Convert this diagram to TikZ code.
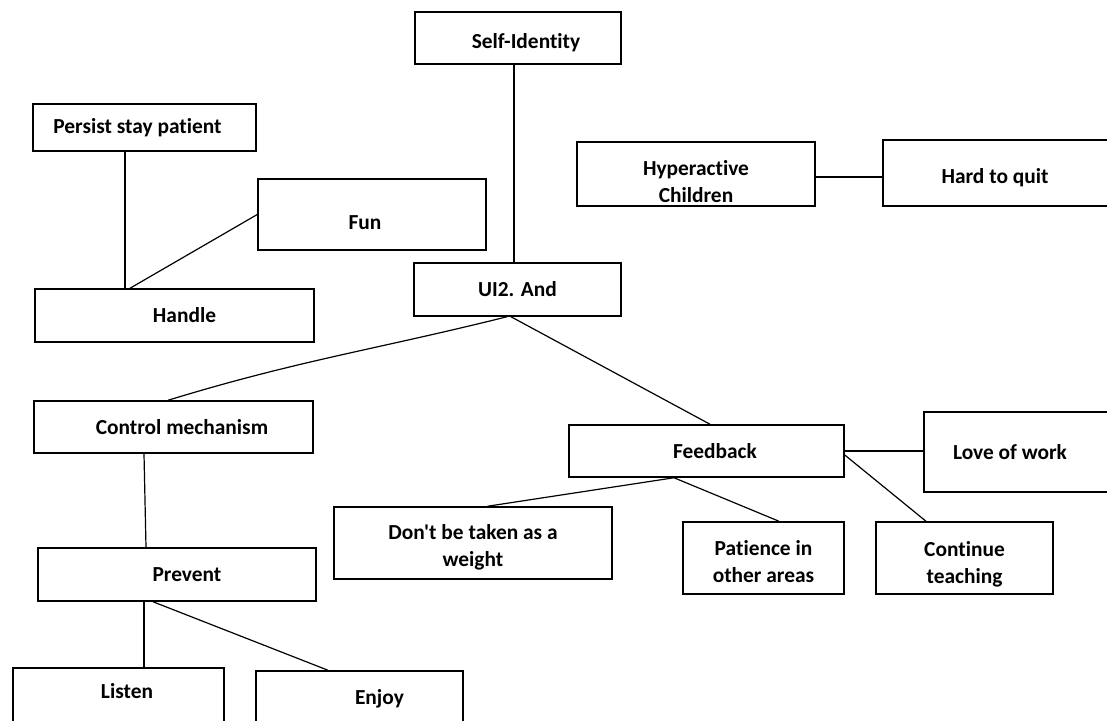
\documentclass[tikz,border=0pt]{standalone}
\usepackage{fontspec}
\newfontfamily\conceptfont{Carlito}[Ligatures=NoCommon]
\usetikzlibrary{positioning}
\tikzset{
  concept/.style 2 args={draw, line width=1.5pt, minimum width=#1pt, minimum height=#2pt,
    inner sep=0pt, align=center, font=\conceptfont\bfseries\fontsize{21.4}{27}\selectfont},
  textpos/.style 2 args={text height=#1pt, text depth=#2pt},
  nudge/.style={execute at begin node={\hspace*{#1pt}}},
  link/.style={line width=1.2pt}
}
\begin{document}
\begin{tikzpicture}[x=1pt,y=-1pt]
  \path[use as bounding box] (0,0) rectangle (1107,720);
  \clip (0,0) rectangle (1107,720);
  \node[concept={206}{52},textpos={20.4}{0},nudge=16] (self) at (518,38) {Self-Identity};
  \node[concept={223}{47},nudge=-14] (persist) at (144.5,127.5) {Persist stay patient};
  \node[concept={228}{71},textpos={29.4}{0},nudge=-14] (fun) at (372,214.5) {Fun};
  \node[concept={279}{53},nudge=20] (handle) at (174.5,315.5) {Handle};
  \node[concept={207}{53}] (ui) at (517.5,289.5) {UI2. And};
  \node[concept={238}{64},textpos={57}{0}] (hyper) at (696,174) {Hyperactive\\Children};
  \node[concept={240}{66},textpos={21}{0},nudge=-16] (hard) at (1003,173) {Hard to quit};
  \node[concept={279}{52},nudge=17] (control) at (173.5,427) {Control mechanism};
  \node[concept={278}{53},nudge=20] (prevent) at (177,574.5) {Prevent};
  \node[concept={211}{80},textpos={0}{19},nudge=17] (listen) at (118.5,708) {Listen};
  \node[concept={207}{80},textpos={0}{13},nudge=40] (enjoy) at (359.5,711) {Enjoy};
  \node[concept={275}{52},nudge=17] (feedback) at (706.5,451) {Feedback};
  \node[concept={200}{80},nudge=-28] (love) at (1024,452) {Love of work};
  \node[concept={278}{72},textpos={46}{0}] (dont) at (473,543) {Don't be taken as a\\weight};
  \node[concept={161}{72},textpos={48}{0}] (patience) at (763.5,558) {Patience in\\other areas};
  \node[concept={177}{72},textpos={50}{0}] (continue) at (964.5,558) {Continue\\teaching};

  \draw[link] ([xshift=-19.5pt]persist.south) -- ([xshift=-19.5pt]persist.south |- handle.north);
  \draw[link] (fun.west) -- ([xshift=-44.5pt]handle.north);
  \draw[link] ([xshift=-4pt]self.south) -- ([xshift=-4pt]self.south |- ui.north);
  \draw[link] ([xshift=-10.5pt]ui.south) to[out=194,in=17] ([xshift=-5.5pt]control.north);
  \draw[link] ([xshift=-6.5pt]ui.south) -- ([xshift=3.5pt]feedback.north);
  \draw[link] ([yshift=-3pt]hyper.east) -- ([yshift=-3pt]hyper.east -| hard.west);
  \draw[link] ([xshift=-29.5pt]control.south) -- ([xshift=-31pt]prevent.north);
  \draw[link] ([xshift=-33pt]prevent.south) -- ([xshift=25.5pt]listen.north);
  \draw[link] ([xshift=-24pt]prevent.south) -- ([xshift=-31.5pt]enjoy.north);
  \draw[link] (feedback.east) -- (feedback.east -| love.west);
  \draw[link] ([yshift=-4pt]feedback.east) -- ([xshift=-38.5pt]continue.north);
  \draw[link] ([xshift=-32.5pt]feedback.south) -- ([xshift=14.5pt]dont.north);
  \draw[link] ([xshift=-32.5pt]feedback.south) -- ([xshift=15.5pt]patience.north);
\end{tikzpicture}
\end{document}
